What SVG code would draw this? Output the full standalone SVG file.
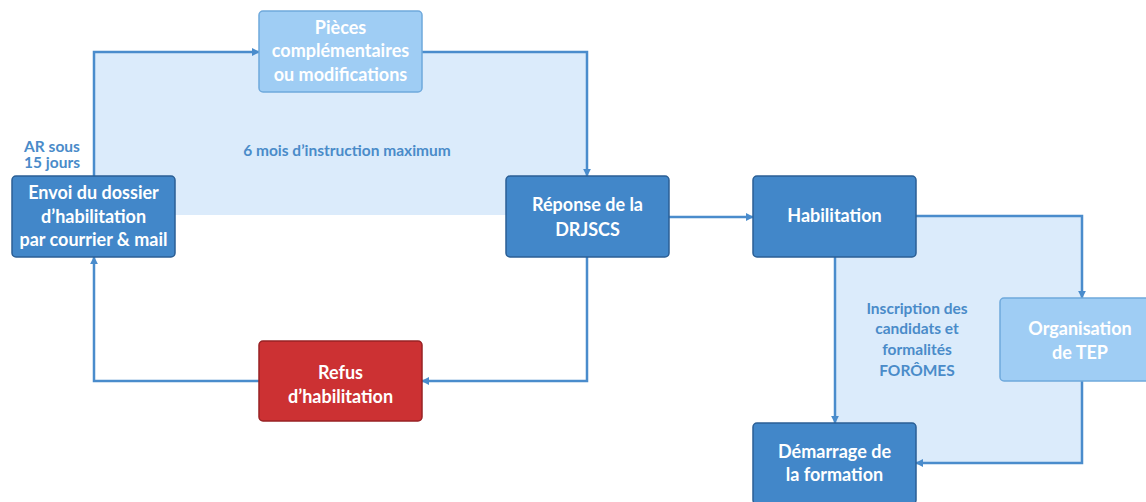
<svg xmlns="http://www.w3.org/2000/svg" width="1146" height="502" viewBox="0 0 1146 502">
<defs>
<style>
.dark{fill:#4287c9;stroke:#2b5f95;stroke-width:1.5}
.light{fill:#9fcdf4;stroke:#6fa9dc;stroke-width:1.5}
.red{fill:#cc3133;stroke:#982224;stroke-width:1.5}
.t{font-family:Lato,"Open Sans","Liberation Sans",sans-serif;font-weight:bold;font-size:18px;fill:#ffffff;text-anchor:middle;dominant-baseline:central}
.lbl{font-family:Lato,"Open Sans","Liberation Sans",sans-serif;font-weight:bold;font-size:15.5px;fill:#4a8bc9;text-anchor:middle;dominant-baseline:central}
.shade{fill:#dbebfb}
.c{fill:none;stroke:#4a8ccc;stroke-width:2.5;marker-end:url(#ah)}
</style>
<marker id="ah" viewBox="0 0 10 10" refX="9" refY="5" markerWidth="3.2" markerHeight="3.2" orient="auto" markerUnits="strokeWidth">
<path d="M0,0 L10,5 L0,10 z" fill="#4a8ccc"/>
</marker>
</defs>
<rect width="1146" height="502" fill="#ffffff"/>
<g id="shading">
<rect class="shade" x="95" y="52" width="492" height="163"/>
<rect class="shade" x="835" y="216" width="247" height="247"/>
</g>
<g id="connectors">
<path class="c" d="M94,176 L94,52 L259,52"/>
<path class="c" d="M422,52 L587,52 L587,176"/>
<path class="c" d="M669,217 L753,217"/>
<path class="c" d="M587,257 L587,381 L422,381"/>
<path class="c" d="M259,381 L94,381 L94,257"/>
<path class="c" d="M916,216 L1082,216 L1082,298"/>
<path class="c" d="M835,257 L835,423"/>
<path class="c" d="M1082,381 L1082,463 L916,463"/>
</g>
<g id="labels">
<text class="lbl" x="52" y="146">AR sous</text>
<text class="lbl" x="52" y="162">15 jours</text>
<text class="lbl" x="347" y="150">6 mois d’instruction maximum</text>
<text class="lbl" x="917" y="308">Inscription des</text>
<text class="lbl" x="917" y="328">candidats et</text>
<text class="lbl" x="917" y="349">formalités</text>
<text class="lbl" x="917" y="370">FORÔMES</text>
</g>
<g id="envoi">
<rect class="dark" x="12" y="176" width="163" height="81" rx="4"/>
<text class="t" x="93.5" y="192">Envoi du dossier</text>
<text class="t" x="93.5" y="216">d’habilitation</text>
<text class="t" x="93.5" y="239">par courrier &amp; mail</text>
</g>
<g id="pieces">
<rect class="light" x="259" y="11" width="163" height="81" rx="4"/>
<text class="t" x="340.5" y="27">Pièces</text>
<text class="t" x="340.5" y="50">complémentaires</text>
<text class="t" x="340.5" y="74">ou modifications</text>
</g>
<g id="reponse">
<rect class="dark" x="506" y="176" width="163" height="81" rx="4"/>
<text class="t" x="587.5" y="204">Réponse de la</text>
<text class="t" x="587.5" y="229">DRJSCS</text>
</g>
<g id="refus">
<rect class="red" x="259" y="341" width="163" height="80" rx="4"/>
<text class="t" x="340.5" y="372">Refus</text>
<text class="t" x="340.5" y="396">d’habilitation</text>
</g>
<g id="habilitation">
<rect class="dark" x="753" y="176" width="163" height="81" rx="4"/>
<text class="t" x="834.5" y="215">Habilitation</text>
</g>
<g id="organisation">
<rect class="light" x="1000" y="298" width="150" height="83" rx="4"/>
<text class="t" x="1080" y="328">Organisation</text>
<text class="t" x="1080" y="352">de TEP</text>
</g>
<g id="demarrage">
<rect class="dark" x="753" y="423" width="163" height="81" rx="4"/>
<text class="t" x="834.5" y="451">Démarrage de</text>
<text class="t" x="834.5" y="474">la formation</text>
</g>
</svg>
